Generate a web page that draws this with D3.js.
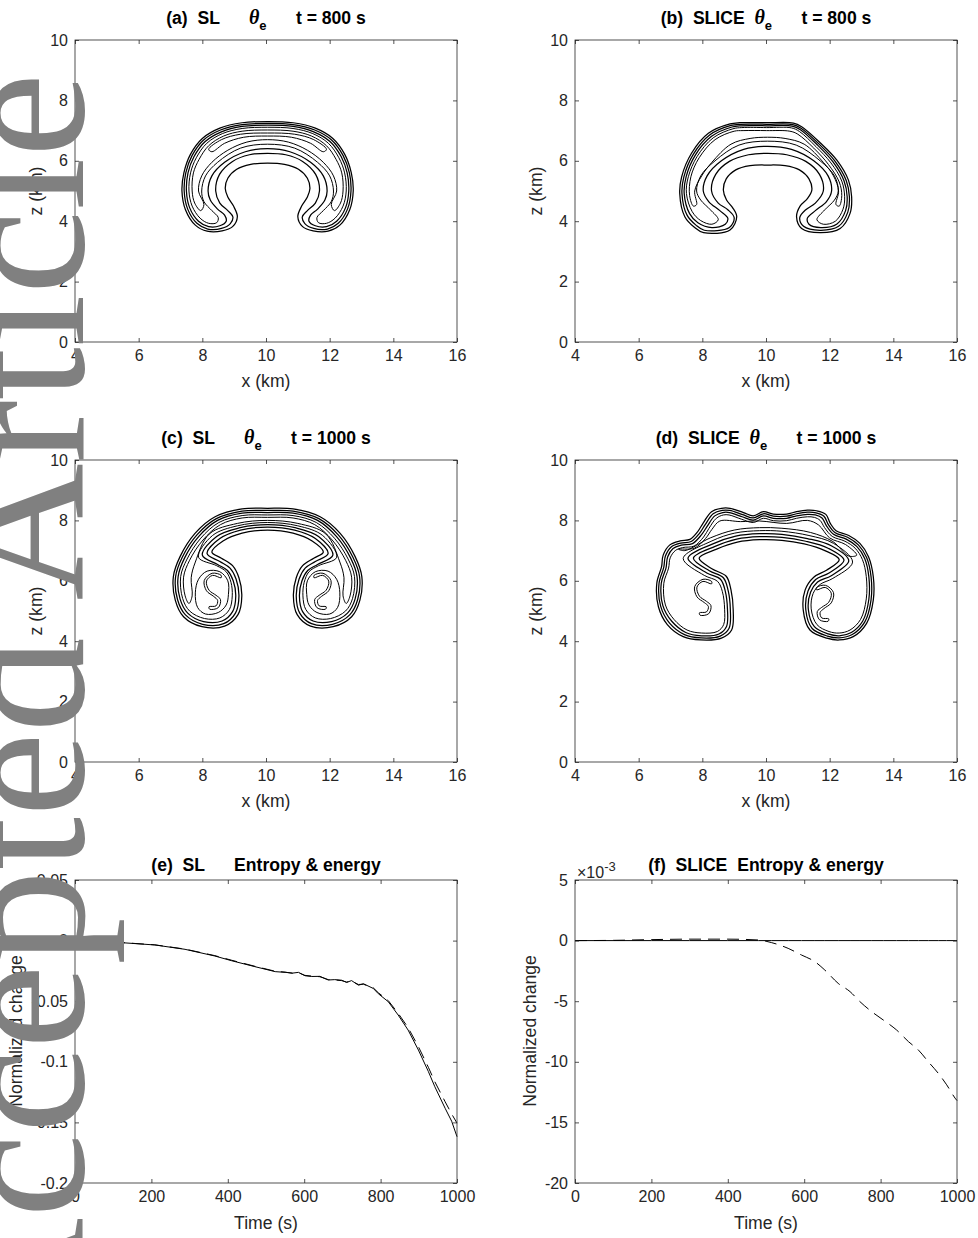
<!DOCTYPE html>
<html>
<head>
<meta charset="utf-8">
<script src="https://cdn.jsdelivr.net/npm/d3@7"></script>
<style>
  body { margin: 0; background: #fff; }
  svg text { font-family: "Liberation Sans", Arial, Helvetica, sans-serif; fill: #262626; }
</style>
</head>
<body>
<svg id="fig" width="978" height="1238"></svg>
<script>
// ---- axis ticks ----
const kmTicksX = [4, 6, 8, 10, 12, 14, 16];
const kmTicksZ = [0, 2, 4, 6, 8, 10];
const timeTicks = [0, 200, 400, 600, 800, 1000];
const slTicksY = [-0.2, -0.15, -0.1, -0.05, 0, 0.05];
const slTickLabels = ["-0.2", "-0.15", "-0.1", "-0.05", "0", "0.05"];
const sliceTicksY = [-20, -15, -10, -5, 0, 5];

// ---- contour lines of theta_e, [x km, z km] ----
const slTheta800 = [
  [[10.05,7.30],[10.85,7.26],[11.55,7.08],[12.1,6.74],[12.47,6.22],[12.68,5.6],[12.74,5.0],[12.63,4.38],[12.32,3.87],[11.95,3.67],[11.48,3.68],[11.15,3.82],[11.0,4.15],[11.12,4.5],[11.3,4.8],[11.38,5.08],[11.3,5.42],[11.02,5.72],[10.58,5.88],[10.05,5.92],
   [9.52,5.88],[9.08,5.72],[8.8,5.42],[8.72,5.08],[8.8,4.8],[8.98,4.5],[9.1,4.15],[8.95,3.82],[8.62,3.68],[8.15,3.67],[7.78,3.87],[7.47,4.38],[7.36,5.0],[7.42,5.6],[7.63,6.22],[8.0,6.74],[8.55,7.08],[9.25,7.26]],
  [[10.05,7.24],[10.85,7.2],[11.53,7.02],[12.06,6.69],[12.42,6.18],[12.62,5.6],[12.67,5.0],[12.56,4.4],[12.27,3.93],[11.93,3.74],[11.5,3.76],[11.22,3.92],[11.14,4.14],[11.3,4.35],[11.55,4.6],[11.68,5.0],[11.56,5.55],[11.15,5.98],[10.62,6.2],[10.05,6.25],
   [9.48,6.2],[8.95,5.98],[8.54,5.55],[8.42,5.0],[8.55,4.6],[8.8,4.35],[8.96,4.14],[8.88,3.92],[8.6,3.76],[8.17,3.74],[7.83,3.93],[7.54,4.4],[7.43,5.0],[7.48,5.6],[7.68,6.18],[8.04,6.69],[8.57,7.02],[9.25,7.2]],
  [[10.05,7.18],[10.85,7.14],[11.5,6.96],[12.01,6.64],[12.36,6.14],[12.55,5.6],[12.6,5.0],[12.5,4.45],[12.22,4.0],[11.9,3.82],[11.55,3.85],[11.35,4.0],[11.4,4.2],[11.62,4.4],[11.85,4.7],[11.92,5.0],[11.8,5.5],[11.4,5.95],[10.75,6.3],[10.05,6.4],
   [9.35,6.3],[8.7,5.95],[8.3,5.5],[8.18,5.0],[8.25,4.7],[8.48,4.4],[8.7,4.2],[8.75,4.0],[8.55,3.85],[8.2,3.82],[7.88,4.0],[7.6,4.45],[7.5,5.0],[7.55,5.6],[7.74,6.14],[8.09,6.64],[8.6,6.96],[9.25,7.14]],
  [[10.05,7.11],[10.85,7.07],[11.47,6.9],[11.96,6.58],[12.29,6.1],[12.47,5.6],[12.52,5.0],[12.42,4.5],[12.17,4.1],[11.9,3.93],[11.65,3.95],[11.6,4.12],[11.8,4.35],[12.05,4.65],[12.12,5.0],[12.0,5.5],[11.62,5.95],[10.9,6.42],[10.05,6.55],
   [9.2,6.42],[8.48,5.95],[8.1,5.5],[7.98,5.0],[8.05,4.65],[8.3,4.35],[8.5,4.12],[8.45,3.95],[8.2,3.93],[7.93,4.1],[7.68,4.5],[7.58,5.0],[7.63,5.6],[7.81,6.1],[8.14,6.58],[8.63,6.9],[9.25,7.07]],
  [[10.05,7.02],[10.85,6.98],[11.43,6.82],[11.9,6.5],[12.2,6.05],[12.38,5.6],[12.42,5.0],[12.34,4.6],[12.15,4.35],[12.05,4.55],[12.22,5.0],[12.12,5.5],[11.8,5.95],[11.3,6.35],[10.7,6.62],[10.05,6.7],
   [9.4,6.62],[8.8,6.35],[8.3,5.95],[7.98,5.5],[7.88,5.0],[8.05,4.55],[7.95,4.35],[7.76,4.6],[7.68,5.0],[7.72,5.6],[7.9,6.05],[8.2,6.5],[8.67,6.82],[9.25,6.98]],
  [[10.05,6.92],[10.9,6.88],[11.5,6.7],[11.9,6.38],[11.8,6.3],[11.4,6.58],[10.8,6.78],[10.05,6.82],[9.3,6.78],[8.7,6.58],[8.3,6.3],[8.2,6.38],[8.6,6.7],[9.2,6.88]]
];

const sliceTheta800 = [
  [[10.02,7.26],[10.86,7.25],[11.12,7.13],[11.7,6.6],[12.22,6.03],[12.59,5.36],[12.69,4.81],[12.64,4.26],[12.33,3.76],[11.7,3.62],[11.12,3.76],[10.96,4.15],[11.07,4.5],[11.3,4.75],[11.44,5.03],[11.35,5.4],[11.05,5.7],[10.6,5.84],[10.05,5.86],
   [9.5,5.84],[9.05,5.7],[8.75,5.4],[8.66,5.03],[8.76,4.7],[8.95,4.45],[9.08,4.15],[8.87,3.71],[8.04,3.62],[7.75,3.8],[7.45,4.15],[7.29,4.92],[7.35,5.47],[7.66,6.25],[8.19,6.91],[8.87,7.22],[9.18,7.26]],
  [[10.02,7.21],[10.84,7.2],[11.1,7.08],[11.66,6.56],[12.16,6.0],[12.52,5.35],[12.62,4.81],[12.57,4.3],[12.28,3.83],[11.7,3.7],[11.18,3.83],[11.06,4.12],[11.25,4.38],[11.55,4.6],[11.8,5.0],[11.68,5.55],[11.25,5.98],[10.65,6.2],[10.05,6.25],
   [9.45,6.2],[8.85,5.98],[8.42,5.55],[8.29,5.0],[8.5,4.6],[8.8,4.38],[9.0,4.12],[8.85,3.79],[8.06,3.7],[7.8,3.87],[7.52,4.2],[7.36,4.92],[7.42,5.47],[7.72,6.22],[8.24,6.86],[8.9,7.17],[9.2,7.21]],
  [[10.02,7.16],[10.82,7.15],[11.08,7.03],[11.62,6.52],[12.1,5.97],[12.45,5.34],[12.55,4.81],[12.5,4.35],[12.23,3.91],[11.72,3.79],[11.35,3.9],[11.3,4.1],[11.55,4.35],[11.9,4.65],[12.06,5.0],[11.95,5.5],[11.5,6.0],[10.8,6.38],[10.05,6.48],
   [9.3,6.38],[8.6,6.0],[8.15,5.5],[8.03,5.0],[8.2,4.65],[8.55,4.35],[8.8,4.1],[8.72,3.9],[8.3,3.79],[7.86,3.95],[7.6,4.25],[7.43,4.92],[7.49,5.47],[7.78,6.19],[8.29,6.81],[8.93,7.12],[9.22,7.16]],
  [[10.02,7.1],[10.8,7.09],[11.05,6.97],[11.57,6.47],[12.04,5.93],[12.38,5.33],[12.47,4.81],[12.42,4.4],[12.18,4.0],[11.8,3.9],[11.6,4.05],[11.85,4.38],[12.15,4.7],[12.27,5.0],[12.15,5.5],[11.7,6.0],[10.95,6.52],[10.05,6.65],
   [9.15,6.52],[8.4,6.0],[7.95,5.5],[7.82,5.0],[7.95,4.7],[8.25,4.38],[8.5,4.05],[8.3,3.9],[7.95,4.02],[7.68,4.32],[7.5,4.92],[7.56,5.47],[7.84,6.15],[8.34,6.76],[8.96,7.06],[9.24,7.1]],
  [[10.02,7.0],[10.75,6.98],[11.0,6.88],[11.5,6.42],[11.96,5.88],[12.3,5.3],[12.38,4.85],[12.3,4.5],[12.2,4.55],[12.28,5.0],[12.12,5.5],[11.8,5.95],[11.2,6.55],[10.6,6.74],[10.05,6.78],
   [9.5,6.74],[8.9,6.55],[8.3,5.95],[7.98,5.5],[7.76,5.0],[7.82,4.55],[7.72,4.5],[7.6,4.85],[7.64,5.47],[7.9,6.1],[8.4,6.7],[9.0,6.98],[9.28,7.0]]
];

const slTheta1000 = [
  [[10.05,8.40],[10.85,8.38],[11.7,8.12],[12.33,7.57],[12.8,6.8],[13.01,6.14],[12.95,5.36],[12.69,4.81],[12.11,4.48],[11.4,4.5],[10.98,4.88],[10.86,5.5],[10.95,6.1],[11.15,6.5],[11.5,6.75],[11.8,6.95],[11.45,7.32],[10.85,7.58],[10.05,7.68],
   [9.25,7.58],[8.65,7.32],[8.3,6.95],[8.6,6.75],[8.95,6.5],[9.15,6.1],[9.24,5.5],[9.12,4.88],[8.7,4.5],[7.99,4.48],[7.41,4.81],[7.15,5.36],[7.09,6.14],[7.3,6.8],[7.77,7.57],[8.4,8.12],[9.25,8.38]],
  [[10.05,8.33],[10.85,8.31],[11.66,8.06],[12.27,7.52],[12.73,6.78],[12.94,6.14],[12.88,5.38],[12.63,4.87],[12.09,4.56],[11.43,4.58],[11.06,4.93],[10.95,5.5],[11.04,6.06],[11.23,6.42],[11.55,6.64],[11.95,6.9],[11.55,7.4],[10.9,7.68],[10.05,7.78],
   [9.2,7.68],[8.55,7.4],[8.15,6.9],[8.55,6.64],[8.87,6.42],[9.06,6.06],[9.15,5.5],[9.04,4.93],[8.67,4.58],[8.01,4.56],[7.47,4.87],[7.22,5.38],[7.16,6.14],[7.37,6.78],[7.83,7.52],[8.44,8.06],[9.25,8.31]],
  [[10.05,8.26],[10.85,8.24],[11.62,8.0],[12.21,7.47],[12.66,6.75],[12.86,6.14],[12.8,5.4],[12.56,4.93],[12.06,4.65],[11.48,4.67],[11.15,4.98],[11.05,5.5],[11.13,6.0],[11.31,6.34],[11.62,6.54],[12.1,6.85],[11.65,7.47],[10.95,7.75],[10.05,7.86],
   [9.15,7.75],[8.45,7.47],[8.0,6.85],[8.48,6.54],[8.79,6.34],[8.97,6.0],[9.05,5.5],[8.95,4.98],[8.62,4.67],[8.04,4.65],[7.54,4.93],[7.3,5.4],[7.24,6.14],[7.44,6.75],[7.89,7.47],[8.48,8.0],[9.25,8.24]],
  [[10.05,8.18],[10.85,8.16],[11.58,7.93],[12.15,7.41],[12.58,6.72],[12.78,6.14],[12.72,5.42],[12.5,5.0],[12.03,4.75],[11.55,4.77],[11.25,5.05],[11.16,5.5],[11.2,5.95],[11.35,6.3],[11.65,6.5],[12.22,6.78],[11.78,7.5],[11.0,7.82],[10.05,7.93],
   [9.1,7.82],[8.32,7.5],[7.88,6.78],[8.45,6.5],[8.75,6.3],[8.9,5.95],[8.94,5.5],[8.85,5.05],[8.55,4.77],[8.07,4.75],[7.6,5.0],[7.38,5.42],[7.32,6.14],[7.52,6.72],[7.95,7.41],[8.52,7.93],[9.25,8.16]],
  [[10.05,8.10],[10.85,8.08],[11.53,7.86],[12.08,7.35],[12.5,6.68],[12.69,6.12],[12.64,5.5],[12.52,5.25],[12.42,5.5],[12.45,6.1],[12.32,6.62],[11.88,7.55],[11.0,7.9],[10.05,8.0],
   [9.1,7.9],[8.22,7.55],[7.78,6.62],[7.65,6.1],[7.68,5.5],[7.58,5.25],[7.46,5.5],[7.41,6.12],[7.6,6.68],[8.02,7.35],[8.57,7.86],[9.25,8.08]],
  [[11.35,5.2],[11.6,4.95],[12.0,4.9],[12.25,5.12],[12.32,5.6],[12.22,6.05],[11.95,6.32],[11.55,6.3],[11.3,6.0],[11.28,5.55]],
  [[8.75,5.2],[8.5,4.95],[8.1,4.9],[7.85,5.12],[7.78,5.6],[7.88,6.05],[8.15,6.32],[8.55,6.3],[8.8,6.0],[8.82,5.55]],
  [[11.51,6.10],[11.78,6.18],[11.97,5.99],[11.89,5.69],[11.67,5.52],[11.53,5.38],[11.6,5.11],[11.87,5.06],[11.89,5.14],[11.67,5.17],[11.62,5.35],[11.74,5.48],[11.97,5.67],[12.04,6.01],[11.79,6.25],[11.51,6.18]],
  [[8.59,6.10],[8.32,6.18],[8.13,5.99],[8.21,5.69],[8.43,5.52],[8.57,5.38],[8.5,5.11],[8.23,5.06],[8.21,5.14],[8.43,5.17],[8.48,5.35],[8.36,5.48],[8.13,5.67],[8.06,6.01],[8.31,6.25],[8.59,6.18]]
];

const sliceTheta1000 = [
  [[9.92,8.29],[10.23,8.21],[10.65,8.21],[10.96,8.29],[11.3,8.34],[11.59,8.32],[11.88,8.2],[12.02,7.9],[12.2,7.66],[12.6,7.5],[12.95,7.24],[13.22,6.8],[13.37,6.14],[13.37,5.36],[13.16,4.59],[12.74,4.15],[12.3,4.04],[11.91,4.1],[11.38,4.37],[11.17,5.03],[11.23,5.7],[11.5,6.12],[11.9,6.35],[12.3,6.7],[11.85,7.0],[11.2,7.22],[10.5,7.34],[9.8,7.36],[9.1,7.28],[8.45,7.05],[7.9,6.75],[8.3,6.4],[8.75,6.15],[8.9,5.7],[8.97,5.03],[8.92,4.37],[8.6,4.1],[7.95,4.04],[7.4,4.15],[6.9,4.55],[6.62,5.14],[6.57,5.92],[6.72,6.47],[6.77,6.85],[6.98,7.19],[7.3,7.32],[7.61,7.37],[7.85,7.62],[8.03,7.92],[8.29,8.29],[8.6,8.4],[8.87,8.4],[9.29,8.26],[9.6,8.15]],
  [[9.92,8.22],[10.23,8.14],[10.65,8.14],[10.96,8.22],[11.3,8.27],[11.57,8.25],[11.82,8.14],[11.96,7.86],[12.16,7.6],[12.56,7.44],[12.9,7.19],[13.16,6.77],[13.3,6.14],[13.3,5.37],[13.1,4.63],[12.71,4.22],[12.3,4.11],[11.93,4.17],[11.45,4.42],[11.25,5.04],[11.32,5.66],[11.56,6.04],[11.98,6.26],[12.45,6.68],[11.95,7.08],[11.25,7.31],[10.5,7.44],[9.8,7.46],[9.08,7.38],[8.4,7.14],[7.72,6.75],[8.22,6.33],[8.66,6.1],[8.81,5.68],[8.88,5.04],[8.84,4.43],[8.56,4.17],[7.96,4.11],[7.44,4.22],[6.97,4.6],[6.69,5.16],[6.64,5.92],[6.79,6.45],[6.84,6.82],[7.03,7.13],[7.32,7.25],[7.65,7.3],[7.91,7.57],[8.09,7.86],[8.34,8.22],[8.62,8.33],[8.86,8.33],[9.27,8.19],[9.6,8.08]],
  [[9.92,8.15],[10.23,8.07],[10.65,8.07],[10.96,8.15],[11.3,8.2],[11.55,8.18],[11.76,8.08],[11.9,7.82],[12.12,7.54],[12.52,7.38],[12.85,7.14],[13.1,6.74],[13.23,6.14],[13.23,5.38],[13.04,4.67],[12.68,4.29],[12.3,4.18],[11.95,4.24],[11.52,4.48],[11.33,5.05],[11.4,5.62],[11.62,5.96],[12.05,6.17],[12.6,6.66],[12.05,7.16],[11.3,7.4],[10.5,7.54],[9.8,7.56],[9.05,7.48],[8.35,7.23],[7.55,6.75],[8.14,6.26],[8.57,6.05],[8.72,5.66],[8.79,5.05],[8.76,4.49],[8.52,4.24],[7.97,4.18],[7.48,4.29],[7.04,4.66],[6.76,5.18],[6.71,5.92],[6.86,6.43],[6.91,6.79],[7.08,7.07],[7.34,7.18],[7.69,7.23],[7.97,7.52],[8.15,7.8],[8.39,8.15],[8.64,8.26],[8.85,8.26],[9.25,8.12],[9.6,8.01]],
  [[9.92,8.07],[10.23,7.99],[10.65,7.99],[10.96,8.07],[11.3,8.12],[11.52,8.1],[11.7,8.0],[11.84,7.76],[12.08,7.47],[12.48,7.31],[12.8,7.08],[13.03,6.7],[13.15,6.14],[13.15,5.4],[12.97,4.72],[12.64,4.37],[12.3,4.27],[11.98,4.32],[11.6,4.55],[11.42,5.07],[11.48,5.58],[11.7,5.88],[12.1,6.08],[12.72,6.62],[12.12,7.24],[11.35,7.5],[10.5,7.64],[9.8,7.66],[9.02,7.58],[8.3,7.32],[7.4,6.74],[8.06,6.18],[8.48,5.98],[8.63,5.64],[8.7,5.06],[8.67,4.55],[8.47,4.32],[7.98,4.27],[7.52,4.37],[7.11,4.72],[6.84,5.2],[6.79,5.92],[6.94,6.42],[6.99,6.76],[7.15,7.0],[7.38,7.1],[7.74,7.15],[8.04,7.45],[8.21,7.74],[8.44,8.07],[8.66,8.18],[8.84,8.18],[9.23,8.04],[9.6,7.93]],
  [[9.8,7.98],[10.65,7.9],[11.3,8.0],[11.65,7.85],[12.0,7.42],[12.5,7.2],[12.85,6.85],[12.6,6.82],[12.1,7.3],[11.4,7.6],[10.5,7.74],[9.8,7.76],[9.0,7.68],[8.25,7.42],[7.45,7.0],[7.25,7.05],[7.75,7.08],[8.1,7.4],[8.3,7.7],[8.55,7.98],[9.2,7.96]],
  [[11.59,5.70],[11.86,5.78],[12.05,5.59],[11.97,5.29],[11.75,5.12],[11.61,4.98],[11.68,4.71],[11.95,4.66],[11.97,4.74],[11.75,4.77],[11.70,4.95],[11.82,5.08],[12.05,5.27],[12.12,5.61],[11.87,5.85],[11.59,5.78]],
  [[8.29,5.90],[8.02,5.98],[7.83,5.79],[7.91,5.49],[8.13,5.32],[8.27,5.18],[8.2,4.91],[7.93,4.86],[7.91,4.94],[8.13,4.97],[8.19,5.15],[8.06,5.28],[7.83,5.47],[7.76,5.81],[8.02,6.05],[8.29,5.98]]
];

// ---- normalized change of entropy (solid) and energy (dashed) ----
const timeSL = [0,50,122,209,288,366,410,471,524,550,570,585,602,620,641,663,680,698,711,724,742,755,781,794,820,846,872,899,925,942,969,986,1000];
const entropySL = [0,-0.0002,-0.0017,-0.0036,-0.0072,-0.0127,-0.0166,-0.0215,-0.0256,-0.0262,-0.0268,-0.0262,-0.0290,-0.0296,-0.0295,-0.0325,-0.0322,-0.0327,-0.0345,-0.0330,-0.0368,-0.0356,-0.0395,-0.0438,-0.0504,-0.0614,-0.0738,-0.0903,-0.1080,-0.1206,-0.1384,-0.1490,-0.1618];
const energySL = [0,-0.0002,-0.0016,-0.0035,-0.0070,-0.0124,-0.0162,-0.0212,-0.0253,-0.0260,-0.0270,-0.0265,-0.0287,-0.0293,-0.0298,-0.0322,-0.0325,-0.0330,-0.0342,-0.0335,-0.0362,-0.0360,-0.0390,-0.0430,-0.0495,-0.0600,-0.0718,-0.0875,-0.1045,-0.1165,-0.1330,-0.1430,-0.1506];

const timeSLICE = [0,100,200,300,400,480,515,558,593,628,654,689,720,746,777,807,842,873,899,925,951,973,995,1000];
const entropySLICE = [0,0,0,0,0,0,0,0,0,0,0,0,0,0,0,0,0,0,0,0,0,0,0,0];
const energySLICE = [0,0.02,0.08,0.12,0.12,0.05,-0.17,-0.64,-1.19,-1.74,-2.43,-3.53,-4.21,-5.04,-5.87,-6.55,-7.38,-8.34,-9.03,-10.0,-10.95,-11.9,-13.0,-13.2];

const svg = d3.select('#fig');
const ink = '#262626';
const tickFont = 16, labelFont = 17.6;

// axes box with inward ticks on all four sides
function drawAxes(xScale, yScale, xTicks, yTicks, yLabels) {
  const [x0, x1] = xScale.range();
  const [y0, y1] = yScale.range();
  const g = svg.append('g');

  const bottom = g.append('g').attr('transform', `translate(0,${y0})`)
    .call(d3.axisBottom(xScale).tickValues(xTicks).tickSizeInner(-4).tickSizeOuter(0).tickPadding(8).tickFormat(d3.format('d')));
  const top = g.append('g').attr('transform', `translate(0,${y1})`)
    .call(d3.axisTop(xScale).tickValues(xTicks).tickSizeInner(-4).tickSizeOuter(0).tickFormat(''));
  const left = g.append('g').attr('transform', `translate(${x0},0)`)
    .call(d3.axisLeft(yScale).tickValues(yTicks).tickSizeInner(-4).tickSizeOuter(0).tickPadding(7)
      .tickFormat((d, i) => yLabels ? yLabels[i] : String(d)));
  const right = g.append('g').attr('transform', `translate(${x1},0)`)
    .call(d3.axisRight(yScale).tickValues(yTicks).tickSizeInner(-4).tickSizeOuter(0).tickFormat(''));

  [bottom, top, left, right].forEach(a => {
    a.select('.domain').remove();
    a.selectAll('line').attr('stroke', ink).attr('stroke-width', 0.8);
    a.selectAll('text').attr('font-size', tickFont).style('fill', ink);
  });

  g.append('rect').attr('x', x0).attr('y', y1).attr('width', x1 - x0).attr('height', y0 - y1)
    .attr('fill', 'none').attr('stroke', ink).attr('stroke-width', 0.8);
  return g;
}

function title(cx, y, lead, tail, withTheta) {
  const t = svg.append('text').attr('x', cx).attr('y', y).attr('text-anchor', 'middle')
    .attr('font-weight', 'bold').attr('font-size', labelFont).style('fill', '#000')
    .attr('xml:space', 'preserve');
  t.append('tspan').text(lead);
  if (withTheta) {
    t.append('tspan').style('font-family', '"Liberation Serif", "Times New Roman", serif')
      .attr('font-style', 'italic').attr('font-size', 20).text('\u03b8');
    t.append('tspan').attr('font-size', 13).attr('dy', 6).text('e');
    t.append('tspan').attr('dy', -6).text(tail);
  } else {
    t.append('tspan').text(tail);
  }
}

function xLabel(cx, y, s) {
  svg.append('text').attr('x', cx).attr('y', y).attr('text-anchor', 'middle')
    .attr('font-size', labelFont).text(s);
}
function yLabel(x, cy, s) {
  svg.append('text').attr('transform', `translate(${x},${cy}) rotate(-90)`).attr('text-anchor', 'middle')
    .attr('font-size', labelFont).text(s);
}

// ---- contour panels ----
const cols = [[75, 457], [575, 957]];
const rows = [[342, 40], [762, 460], [1183, 880]];

function contourPanel(col, row, loops) {
  const xs = d3.scaleLinear().domain([4, 16]).range(cols[col]);
  const ys = d3.scaleLinear().domain([0, 10]).range(rows[row]);
  const line = d3.line().x(d => xs(d[0])).y(d => ys(d[1])).curve(d3.curveCatmullRomClosed.alpha(0.5));
  svg.append('g').selectAll('path').data(loops).join('path')
    .attr('d', line).attr('fill', 'none').attr('stroke', '#000')
    .attr('stroke-width', (d, i) => i < 3 ? 1.25 : 1);
  drawAxes(xs, ys, kmTicksX, kmTicksZ);
  const cx = (cols[col][0] + cols[col][1]) / 2;
  xLabel(cx, rows[row][0] + 45, 'x (km)');
  yLabel(cols[col][0] - 33, (rows[row][0] + rows[row][1]) / 2, 'z (km)');
}

contourPanel(0, 0, slTheta800);
contourPanel(1, 0, sliceTheta800);
contourPanel(0, 1, slTheta1000);
contourPanel(1, 1, sliceTheta1000);

title(266, 24, '(a)  SL      ', '      t = 800 s', true);
title(766, 24, '(b)  SLICE  ', '      t = 800 s', true);
title(266, 444, '(c)  SL      ', '      t = 1000 s', true);
title(766, 444, '(d)  SLICE  ', '      t = 1000 s', true);

// ---- time series panels ----
function seriesPanel(col, domainY, yTicks, yLabels, time, solid, dashed, curve) {
  const xs = d3.scaleLinear().domain([0, 1000]).range(cols[col]);
  const ys = d3.scaleLinear().domain(domainY).range(rows[2]);
  const g = svg.append('g');
  const pts = vals => vals.map((v, i) => [time[i], v]);
  const line = d3.line().x(d => xs(d[0])).y(d => ys(d[1])).curve(curve);
  g.append('path').attr('d', line(pts(dashed))).attr('fill', 'none').attr('stroke', '#000')
    .attr('stroke-width', 1).attr('stroke-dasharray', '12,7');
  g.append('path').attr('d', line(pts(solid))).attr('fill', 'none').attr('stroke', '#000')
    .attr('stroke-width', 1);
  drawAxes(xs, ys, timeTicks, yTicks, yLabels);
  xLabel((cols[col][0] + cols[col][1]) / 2, 1229, 'Time (s)');
}

seriesPanel(0, [-0.2, 0.05], slTicksY, slTickLabels, timeSL, entropySL, energySL, d3.curveLinear);
yLabel(22, 1031, 'Normalized change');
title(266, 871, '(e)  SL      ', 'Entropy & energy', false);

seriesPanel(1, [-20, 5], sliceTicksY, sliceTicksY.map(String), timeSLICE, entropySLICE, energySLICE, d3.curveMonotoneX);
yLabel(536, 1031, 'Normalized change');
title(766, 871, '(f)  SLICE  ', 'Entropy & energy', false);

// exponent label of panel (f)
const ex = svg.append('text').attr('x', 577).attr('y', 878).attr('font-size', 16);
ex.append('tspan').text('\u00d710');
ex.append('tspan').attr('dy', -7).attr('font-size', 13).text('-3');

// ---- journal watermark ----
svg.append('text')
  .attr('transform', 'translate(83,73) rotate(-90)')
  .attr('text-anchor', 'end')
  .style('font-family', '"Liberation Serif", "Times New Roman", serif')
  .attr('font-size', 190)
  .style('fill', '#808080')
  .text('Accepted Article');
</script>
</body>
</html>
